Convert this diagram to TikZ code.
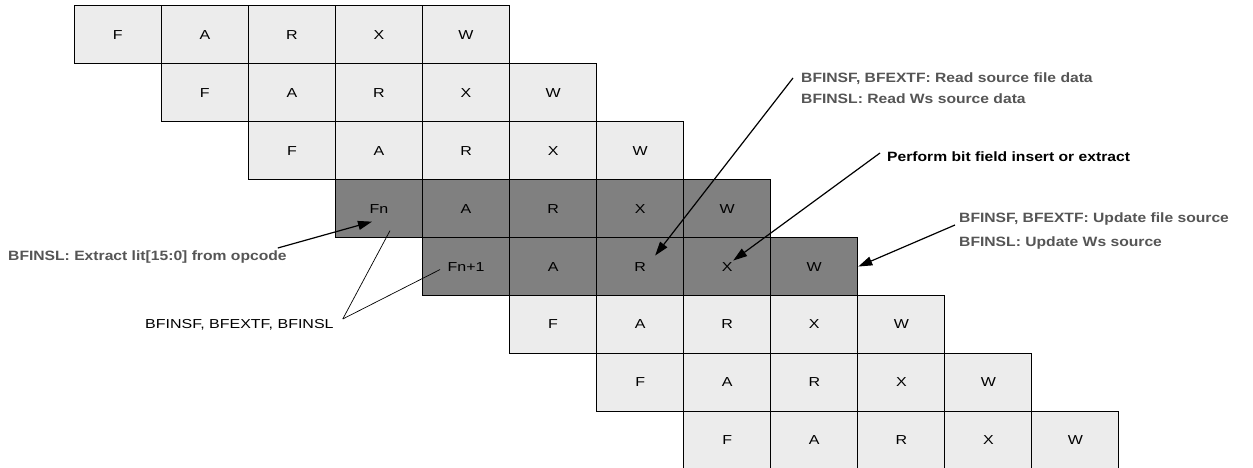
\documentclass[tikz,border=0pt]{standalone}
\usepackage{fontspec}
\setmainfont{Liberation Sans}
\newfontfamily\cellfont[FakeStretch=1.23]{Liberation Sans}
\newfontfamily\notefont[FakeStretch=1.16]{Liberation Sans}
\usetikzlibrary{arrows.meta}
\definecolor{stageLight}{HTML}{ECECEC}
\definecolor{stageDark}{HTML}{808080}
\definecolor{noteGray}{HTML}{555555}

\begin{document}
\begin{tikzpicture}[x=1pt, y=-1pt,
        stageCell/.style={draw=black, fill=stageLight, line width=1pt, minimum width=87pt, minimum height=57.9pt, inner sep=0pt, font=\cellfont\fontsize{13}{15}\selectfont},
        activeCell/.style={stageCell, fill=stageDark},
        noteText/.style={font=\notefont\bfseries\fontsize{13.5}{21}\selectfont, text=noteGray, align=left, inner sep=0pt},
        arrowStyle/.style={-{Triangle[length=14pt,width=9pt]}, line width=1.2pt},
        thinLine/.style={line width=0.7pt}
    ]
        \useasboundingbox (0,0) rectangle (1253,468);

        % Pipeline rows, one instruction per row
        \foreach \r/\first/\look in {0/F/stageCell, 1/F/stageCell, 2/F/stageCell, 3/Fn/activeCell, 4/Fn+1/activeCell, 5/F/stageCell, 6/F/stageCell, 7/F/stageCell} {
            \foreach \s [count=\k from 0] in {\first,A,R,X,W} {
                \node[\look] (c-\r-\k) at ({74.3+87.06*(\r+\k)+43.5}, {6+57.9*\r+28.95}) {\s};
            }
        }

        % Notes
        \node[noteText, anchor=west] (extLbl) at (8,257) {BFINSL: Extract lit[15:0] from opcode};
        \node[font=\cellfont\fontsize{13}{15}\selectfont, anchor=west, inner sep=0pt] (fmtLbl) at (145,325) {BFINSF, BFEXTF, BFINSL};
        \node[noteText, anchor=north west] (readLbl) at (801,73) {BFINSF, BFEXTF: Read source file data\\BFINSL: Read Ws source data};
        \node[noteText, text=black, anchor=west] (opLbl) at (887,157) {Perform bit field insert or extract};
        \node[noteText, anchor=north west] (updLbl) at (959,213) {BFINSF, BFEXTF: Update file source\\[3pt]BFINSL: Update Ws source};

        % Pointers
        \draw[arrowStyle] ([shift={(-9,-9)}]extLbl.east) -- ([shift={(-7,13)}]c-3-0.center);
        \draw[thinLine] ([shift={(9,-6)}]fmtLbl.east) -- ([shift={(11,22)}]c-3-0.center);
        \draw[thinLine] ([shift={(9,-6)}]fmtLbl.east) -- ([shift={(-26,3)}]c-4-0.center);
        \draw[arrowStyle] ([shift={(-8,5)}]readLbl.north west) -- ([shift={(15,-11)}]c-4-2.center);
        \draw[arrowStyle] ([shift={(-7,-4)}]opLbl.west) -- ([shift={(6,-6)}]c-4-3.center);
        \draw[arrowStyle] ([shift={(-4,12)}]updLbl.north west) -- (c-4-4.east);
    \end{tikzpicture}
\end{document}
